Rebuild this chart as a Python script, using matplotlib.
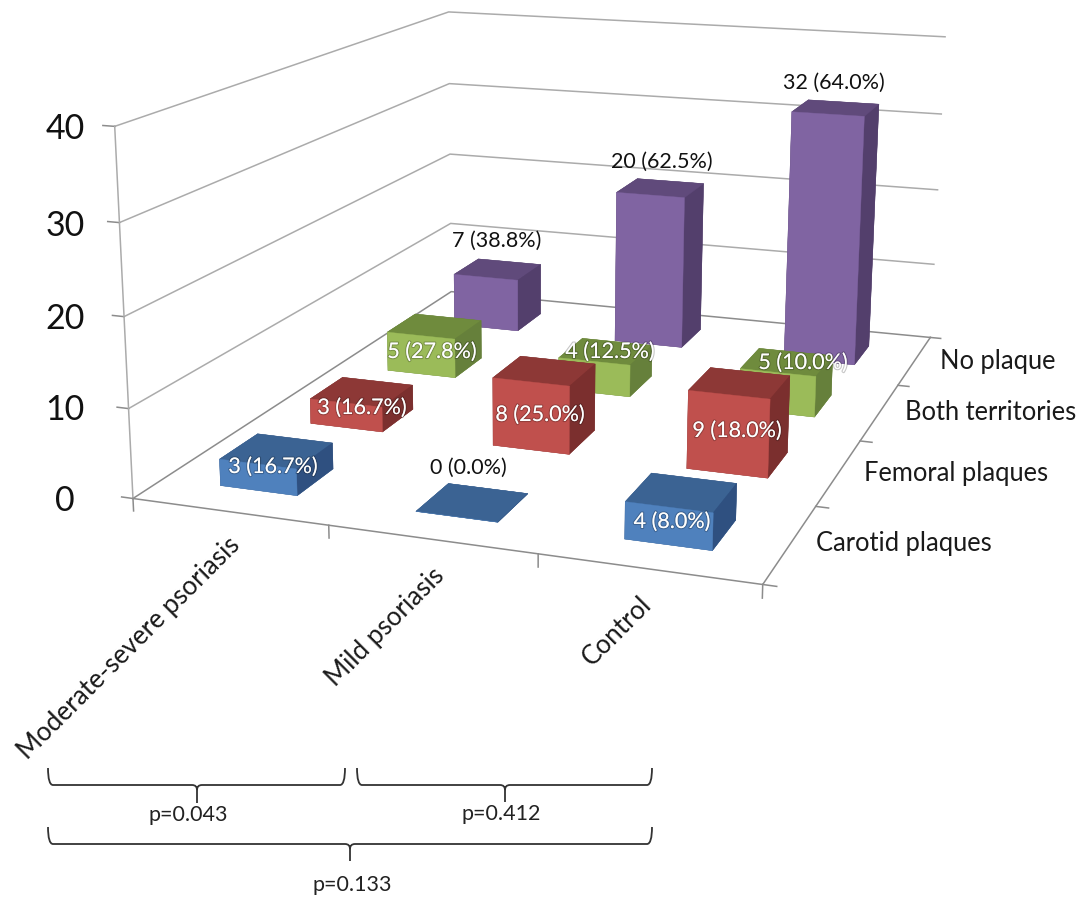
import matplotlib
matplotlib.use('Agg')
import matplotlib.pyplot as plt
import matplotlib.patheffects as pe
from matplotlib.path import Path
from matplotlib.patches import PathPatch
import numpy as np

plt.rcParams['font.family'] = ['Lato', 'DejaVu Sans']

W, H = 1086, 900

groups = ['Moderate-severe psoriasis', 'Mild psoriasis', 'Control']
series = ['Carotid plaques', 'Femoral plaques', 'Both territories', 'No plaque']
carotid = [3, 0, 4]
femoral = [3, 8, 9]
both = [5, 4, 5]
no_plaque = [7, 20, 32]
carotid_txt = ['3 (16.7%)', '0 (0.0%)', '4 (8.0%)']
femoral_txt = ['3 (16.7%)', '8 (25.0%)', '9 (18.0%)']
both_txt = ['5 (27.8%)', '4 (12.5%)', '5 (10.0%)']
no_plaque_txt = ['7 (38.8%)', '20 (62.5%)', '32 (64.0%)']
z_ticks = [0, 10, 20, 30, 40]

# where the plot box corners sit in the picture, used to fit the camera
frame_3d = [(0, 0, 0), (3, 0, 0), (3, 4, 0), (0, 4, 0), (0, 0, 40), (0, 4, 40), (3, 4, 40),
            (0, 4, 30), (3, 4, 30), (0, 4, 20), (3, 4, 20), (0, 4, 10), (3, 4, 10), (0, 0, 10)]
frame_px = [(133, 498), (763, 585), (929, 337), (452, 293), (115, 127), (448, 12), (945, 37),
            (450, 83), (941, 114), (450, 154), (938, 190), (450, 223), (935, 264), (128, 408)]

bar_w = 0.4
bar_d = 0.4

colors = {
    'Carotid plaques': ('#4F81BD', '#3B6393', '#2F5080'),
    'Femoral plaques': ('#C0504D', '#8D3836', '#7B2F2E'),
    'Both territories': ('#9BBB59', '#6F8B3D', '#66803B'),
    'No plaque': ('#8064A2', '#604A7B', '#533F6C'),
}


def fit_camera(pts3, pts2):
    A, b = [], []
    for (x, y, z), (u, v) in zip(pts3, pts2):
        A.append([x, y, z, 1, 0, 0, 0, 0, -u * x, -u * y, -u * z])
        A.append([0, 0, 0, 0, x, y, z, 1, -v * x, -v * y, -v * z])
        b += [u, v]
    p = np.linalg.lstsq(np.array(A, float), np.array(b, float), rcond=None)[0]
    return np.append(p, 1).reshape(3, 4)


fig = plt.figure(figsize=(W / 100, H / 100), dpi=100)
# 3d axes are always square, so make a square that covers the whole figure
ax = fig.add_axes([0, -(W - H) / 2 / H, 1, W / H], projection='3d')
ax.set_axis_off()
ax.patch.set_alpha(0)
ax.computed_zorder = False

P = fit_camera(frame_3d, frame_px)
x0, x1 = ax.viewLim.intervalx
y0, y1 = ax.viewLim.intervaly
top = (W - H) / 2 + H
T = np.array([[(x1 - x0) / W, 0, x0],
              [0, -(y1 - y0) / W, y0 + top * (y1 - y0) / W],
              [0, 0, 1]])
Q = T @ P
# third row is only the depth, kept negative because lines get clipped otherwise
M = np.array([Q[0], Q[1], [-0.2, 1, -0.001, -20], Q[2]])
ax.get_proj = lambda: M

grid_c = '#ABABAB'
axis_c = '#8C8C8C'
for z in z_ticks:
    c = axis_c if z == 0 else grid_c
    ax.plot([0, 0, 3], [0, 4, 4], [z, z, z], color=c, lw=1.1, zorder=1)
    ax.plot([-0.06, 0], [0, 0], [z, z], color=axis_c, lw=1.1, zorder=1)
ax.plot([0, 0], [0, 0], [0, 40], color=grid_c, lw=1.1, zorder=1)
ax.plot([0, 3, 3], [0, 0, 4], [0, 0, 0], color=axis_c, lw=1.1, zorder=1)
for i in range(4):
    ax.plot([i, i], [0, 0], [0, -1.4], color=axis_c, lw=1.1, zorder=1)
for j in range(5):
    ax.plot([3, 3.06], [j, j], [0, 0], color=axis_c, lw=1.1, zorder=1)

order = 2
all_values = [carotid, femoral, both, no_plaque]
for j in range(3, -1, -1):
    front, topc, side = colors[series[j]]
    for i in range(3):
        # bar3d faces: bottom, top, -y, +y, -x, +x
        faces = [topc, topc, front, side, side, side]
        ax.bar3d(i + 0.5 - bar_w / 2, j + 0.5 - bar_d / 2, 0, bar_w, bar_d, all_values[j][i],
                 color=faces, edgecolor=faces, linewidth=0.3, shade=False, zorder=order)
        order += 1

# overlay in picture pixels for the texts and braces
ov = fig.add_axes([0, 0, 1, 1])
ov.set_xlim(0, W)
ov.set_ylim(H, 0)
ov.axis('off')
ov.patch.set_alpha(0)

z_label_y = [501, 410, 319, 226, 129]
for z, y in zip(z_ticks, z_label_y):
    ov.text(65, y, str(z), fontsize=24.5, ha='center', va='center', color='#111111')

group_ends = [(236, 541), (440, 572), (648, 601)]
for name, (x, y) in zip(groups, group_ends):
    ov.text(x, y, name, fontsize=18.7, rotation=45, rotation_mode='anchor', ha='right', va='center', color='#1a1a1a')

series_pos = [(816, 543), (864, 473), (905, 413), (940, 361)]
for name, (x, y) in zip(series, series_pos):
    ov.text(x, y, name, fontsize=18.4, ha='left', va='center', color='#1a1a1a')

dark_pos = [(497, 241), (662, 162), (834, 83), (468, 468)]
dark_txt = no_plaque_txt + [carotid_txt[1]]
for (x, y), s in zip(dark_pos, dark_txt):
    ov.text(x, y, s, fontsize=15.5, ha='center', va='center', color='#111111')

light_pos = [(273, 467), (672, 522), (362, 408), (540, 415), (737, 431), (432, 352), (610, 352), (803, 363)]
light_txt = [carotid_txt[0], carotid_txt[2]] + femoral_txt + both_txt
for (x, y), s in zip(light_pos, light_txt):
    ov.text(x, y, s, fontsize=15.5, ha='center', va='center', color='white',
            path_effects=[pe.withStroke(linewidth=1.6, foreground=(0, 0, 0, 0.22))])


def brace(left, right, mid, ytop, yline, ybot):
    r = 5
    verts = [(left, ytop), (left, yline), (left + r, yline), (mid - r, yline), (mid, yline), (mid, yline + r),
             (mid, ybot), (mid, yline + r), (mid, yline), (mid + r, yline), (right - r, yline),
             (right, yline), (right, ytop)]
    codes = [Path.MOVETO, Path.CURVE3, Path.CURVE3, Path.LINETO, Path.CURVE3, Path.CURVE3,
             Path.LINETO, Path.MOVETO, Path.CURVE3, Path.CURVE3, Path.LINETO, Path.CURVE3, Path.CURVE3]
    ov.add_patch(PathPatch(Path(verts, codes), fc='none', ec='#333333', lw=1.3))


brace(48, 345, 197, 768, 785, 803)
brace(357, 652, 505, 768, 785, 802)
brace(48, 652, 350, 827, 844, 861)
ov.text(188, 815, 'p=0.043', fontsize=15.5, ha='center', va='center', color='#222222')
ov.text(501, 814, 'p=0.412', fontsize=15.5, ha='center', va='center', color='#222222')
ov.text(352, 885, 'p=0.133', fontsize=15.5, ha='center', va='center', color='#222222')

fig.savefig('out.png', dpi=100)
